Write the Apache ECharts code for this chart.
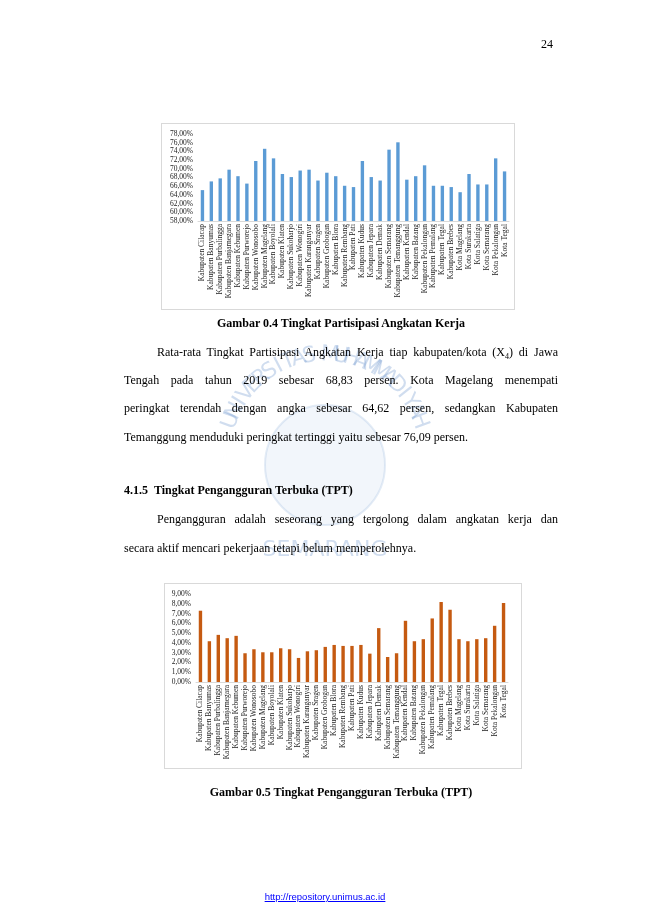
<!DOCTYPE html>
<html>
<head>
<meta charset="utf-8">
<script src="https://cdn.jsdelivr.net/npm/echarts@6/dist/echarts.min.js"></script>
<style>
    body{ margin:0; background:#fff; }
    #page{ position:relative; width:650px; height:919px; overflow:hidden; font-family:"Liberation Serif","Times New Roman",serif; color:#000; }
    #wm{ position:absolute; left:0; top:0; width:650px; height:919px; }
    .box{ position:absolute; border:1px solid #d9d9d9; background:transparent; }
    .ln{ position:absolute; left:124px; width:434px; font-size:12px; line-height:16px; white-space:nowrap; }
    .jt{ text-align:justify; text-align-last:justify; white-space:normal; }
    .cap{ position:absolute; left:124px; width:434px; text-align:center; font-size:12px; font-weight:bold; line-height:16px; }
</style>
</head>
<body>
<div id="page">
    <div id="wm"></div>
    <div style="position:absolute;left:541px;top:37px;font-size:12px;">24</div>

    <div id="tpak" class="box" style="left:161px;top:123px;width:352px;height:185px;"></div>
    <div class="cap" style="top:315px;">Gambar 0.4 Tingkat Partisipasi Angkatan Kerja</div>

    <div class="ln jt" style="top:344px;padding-left:33px;width:401px;">Rata-rata Tingkat Partisipasi Angkatan Kerja tiap kabupaten/kota (X<sub style="font-size:8px;line-height:0;">4</sub>) di Jawa</div>
    <div class="ln jt" style="top:372px;">Tengah pada tahun 2019 sebesar 68,83 persen. Kota Magelang menempati</div>
    <div class="ln jt" style="top:400px;">peringkat terendah dengan angka sebesar 64,62 persen, sedangkan Kabupaten</div>
    <div class="ln" style="top:429px;">Temanggung menduduki peringkat tertinggi yaitu sebesar 76,09 persen.</div>

    <div class="ln" style="top:482px;font-weight:bold;">4.1.5&nbsp;&nbsp;Tingkat Pengangguran Terbuka (TPT)</div>
    <div class="ln jt" style="top:511px;padding-left:33px;width:401px;">Pengangguran adalah seseorang yang tergolong dalam angkatan kerja dan</div>
    <div class="ln" style="top:540px;">secara aktif mencari pekerjaan tetapi belum memperolehnya.</div>

    <div id="tpt" class="box" style="left:164px;top:583px;width:356px;height:184px;"></div>
    <div class="cap" style="top:784px;">Gambar 0.5 Tingkat Pengangguran Terbuka (TPT)</div>

    <div style="position:absolute;left:0;width:650px;top:891px;text-align:center;font-family:'Liberation Sans',Arial,sans-serif;font-size:9.5px;">
        <span style="color:#0000ff;text-decoration:underline;">http://repository.unimus.ac.id</span>
    </div>
</div>

<script>
//************************* data ******************************//
var wilayah = ['Kabupaten Cilacap','Kabupaten Banyumas','Kabupaten Purbalingga','Kabupaten Banjarnegara','Kabupaten Kebumen',
    'Kabupaten Purworejo','Kabupaten Wonosobo','Kabupaten Magelang','Kabupaten Boyolali','Kabupaten Klaten',
    'Kabupaten Sukoharjo','Kabupaten Wonogiri','Kabupaten Karanganyar','Kabupaten Sragen','Kabupaten Grobogan',
    'Kabupaten Blora','Kabupaten Rembang','Kabupaten Pati','Kabupaten Kudus','Kabupaten Jepara',
    'Kabupaten Demak','Kabupaten Semarang','Kabupaten Temanggung','Kabupaten Kendal','Kabupaten Batang',
    'Kabupaten Pekalongan','Kabupaten Pemalang','Kabupaten Tegal','Kabupaten Brebes','Kota Magelang',
    'Kota Surakarta','Kota Salatiga','Kota Semarang','Kota Pekalongan','Kota Tegal'];

// Tingkat Partisipasi Angkatan Kerja (%)
var tpakValues = [65.1, 67.1, 67.8, 69.8, 68.3, 66.6, 71.8, 74.6, 72.4, 68.8,
    68.1, 69.6, 69.8, 67.3, 69.1, 68.3, 66.1, 65.8, 71.8, 68.1,
    67.3, 74.4, 76.09, 67.5, 68.3, 70.8, 66.1, 66.1, 65.8, 64.62,
    68.8, 66.4, 66.4, 72.4, 69.4];

// Tingkat Pengangguran Terbuka (%)
var tptValues = [7.29, 4.17, 4.82, 4.48, 4.72, 2.94, 3.35, 3.04, 3.04, 3.45,
    3.35, 2.46, 3.14, 3.25, 3.59, 3.79, 3.69, 3.69, 3.79, 2.90,
    5.51, 2.56, 2.94, 6.26, 4.17, 4.38, 6.50, 8.18, 7.39, 4.38,
    4.17, 4.38, 4.48, 5.75, 8.08];

var tpakAxis = {min: 58, max: 78, interval: 2};
var tptAxis = {min: 0, max: 9, interval: 1};

var watermarkTop = 'UNIVERSITAS MUHAMMADIYAH';
var watermarkBottom = 'SEMARANG';

//************************* charts ******************************//
function pctLabel(v){
    //excel style: 68,00%
    return v.toFixed(2).replace('.', ',') + '%';
}

function barChart(domId, values, axis, color, grid, xFont, yFont){
    var myChart = echarts.init(document.getElementById(domId));
    var option = {
        animation: false,
        grid: grid,
        xAxis: {
            type: 'category',
            data: wilayah,
            axisTick: {show: false},
            axisLine: {lineStyle: {color: '#d9d9d9', width: 1}},
            axisLabel: {
                interval: 0,
                rotate: 90,
                margin: 3,
                fontFamily: 'Liberation Serif',
                fontSize: xFont,
                color: '#222'
            }
        },
        yAxis: {
            type: 'value',
            min: axis.min,
            max: axis.max,
            interval: axis.interval,
            splitLine: {show: false},
            axisLine: {show: false},
            axisTick: {show: false},
            axisLabel: {
                margin: 5,
                fontFamily: 'Liberation Serif',
                fontSize: yFont,
                color: '#222',
                formatter: pctLabel
            }
        },
        series: [{
            type: 'bar',
            data: values,
            barWidth: '38%',
            itemStyle: {color: color}
        }]
    };
    myChart.setOption(option);
    return myChart;
}

barChart('tpak', tpakValues, tpakAxis, '#5b9bd5', {left: 36, right: 5, top: 10, bottom: 88}, 7.5, 7.5);
barChart('tpt', tptValues, tptAxis, '#c55a11', {left: 31, right: 13, top: 10, bottom: 86}, 7.5, 7.5);

//faint university watermark behind the text
function watermark(){
    var wm = echarts.init(document.getElementById('wm'));
    var cx = 325, cy = 455, r = 100;
    var els = [];
    var n = watermarkTop.length;
    for(var i=0; i<n; i++){
        var deg = 200 + i * (140 / (n - 1));
        var rad = deg * Math.PI / 180;
        els.push({
            type: 'text',
            x: cx + r * Math.cos(rad),
            y: cy + r * Math.sin(rad),
            rotation: -(deg - 270) * Math.PI / 180,
            style: {
                text: watermarkTop.charAt(i),
                fontSize: 22,
                fontFamily: 'DejaVu Sans',
                fill: 'rgba(110,150,205,0.32)',
                align: 'center',
                verticalAlign: 'middle'
            }
        });
    }
    els.push({
        type: 'text', x: cx, y: 550,
        style: {text: watermarkBottom, fontSize: 22, fontFamily: 'DejaVu Sans', fill: 'rgba(110,150,205,0.32)', align: 'center', verticalAlign: 'middle'}
    });
    els.push({
        type: 'circle', shape: {cx: cx, cy: cy + 10, r: 60},
        style: {fill: 'rgba(150,185,225,0.12)', stroke: 'rgba(120,160,210,0.2)', lineWidth: 2}
    });
    wm.setOption({graphic: els});
}
watermark();
</script>
</body>
</html>
